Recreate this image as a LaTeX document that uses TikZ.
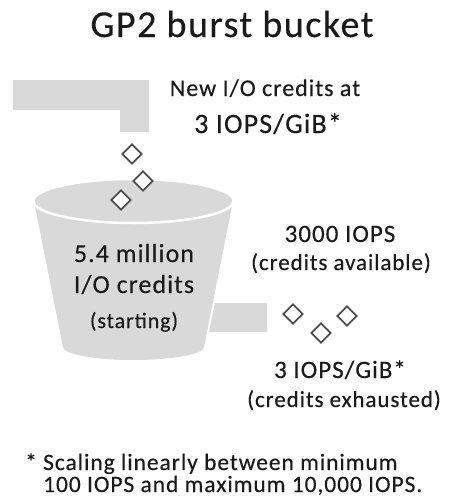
\documentclass[tikz,border=0pt]{standalone}
\usepackage{fontspec}
\setmainfont{Carlito}[LetterSpace=4, FakeBold=0.3]
\usetikzlibrary{shapes.geometric}

\definecolor{bucketgray}{HTML}{D9D9D9}
\definecolor{creditgray}{HTML}{4D4D4D}
\definecolor{inkgray}{HTML}{1A1A1A}
\newcommand{\fsz}[1]{\fontsize{#1}{#1}\selectfont}

\begin{document}
\begin{tikzpicture}[x=1pt, y=-1pt,
    every node/.style={text=inkgray, inner sep=0pt},
    credit/.style={shape=diamond, draw=creditgray, fill=white, line width=1.7pt, minimum size=20pt}]
  \useasboundingbox (0,0) rectangle (449,499);
  \node[anchor=base, font=\fsz{38}] (title) at (232,37) {GP2 burst bucket};
  % pipe that fills the bucket
  \fill[bucketgray] (13,80) -- (149,80) -- (149,132) -- (120,132) -- (120,110) -- (13,110) -- cycle;
  \node[anchor=base, font=\fsz{24}] (inlabel) at (265,96) {New I/O credits at};
  \node[anchor=base, font=\fsz{28}] (inrate) at (268,133) {3 IOPS/GiB*};
  % bucket: body, then the top with a white rim
  \fill[bucketgray] (34,201) -- (233,201) -- (204,347)
    arc[start angle=0, end angle=180, x radius=70.5, y radius=13] -- cycle;
  \filldraw[fill=bucketgray, draw=white, line width=2.5pt] (133.5,201) ellipse[x radius=100, y radius=22];
  \node[anchor=base, font=\fsz{26}] (stock1) at (134,262) {5.4 million};
  \node[anchor=base, font=\fsz{26}] (stock2) at (134,293) {I/O credits};
  \node[anchor=base, font=\fsz{22}] (stock3) at (134,328) {(starting)};
  % drain pipe
  \fill[bucketgray] (215,303) -- (267,303) -- (267,332) -- (209,332) -- cycle;
  % credits dropping in and running out
  \node[credit] (in1) at (132,154) {};
  \node[credit] (in2) at (143,181) {};
  \node[credit] (in3) at (121,200) {};
  \node[credit] (out1) at (293,314) {};
  \node[credit] (out2) at (321,333) {};
  \node[credit] (out3) at (347,316) {};
  \node[anchor=base, font=\fsz{25}] (burst1) at (340,242) {3000 IOPS};
  \node[anchor=base, font=\fsz{23}] (burst2) at (341,270) {(credits available)};
  \node[anchor=base, font=\fsz{25}] (base1) at (340,378) {3 IOPS/GiB*};
  \node[anchor=base, font=\fsz{23}] (base2) at (344,407) {(credits exhausted)};
  \node[anchor=base west, font=\fsz{23.5}] (note1) at (25,470) {* Scaling linearly between minimum};
  \node[anchor=base west, font=\fsz{23.5}] (note2) at (43,492) {100 IOPS and maximum 10,000 IOPS.};
\end{tikzpicture}
\end{document}
